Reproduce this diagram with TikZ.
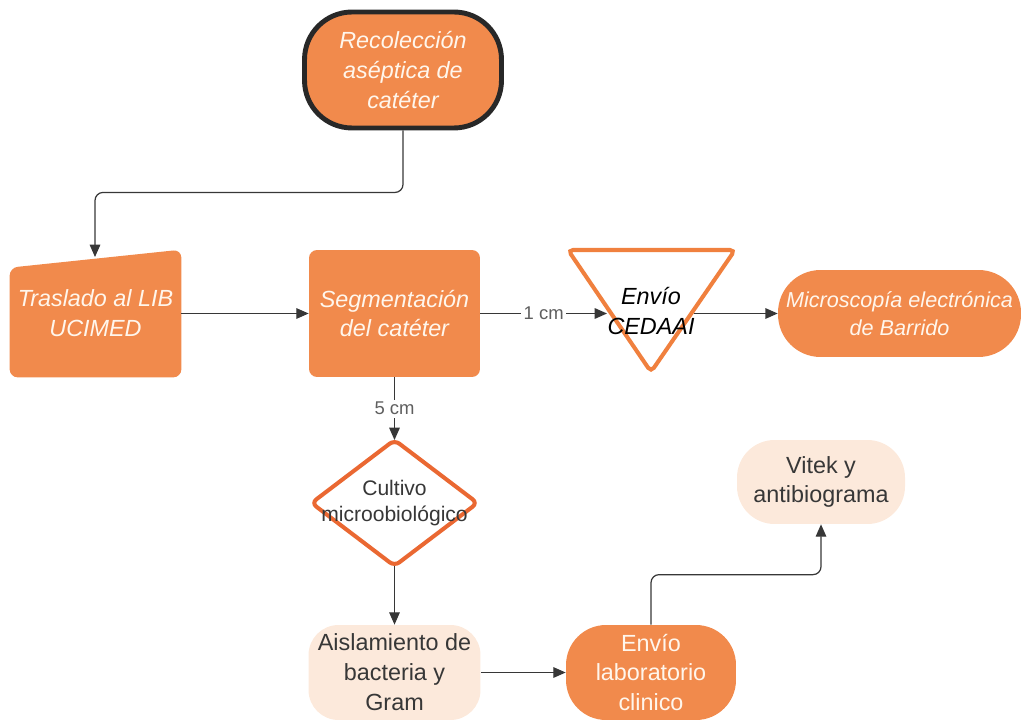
\documentclass[tikz,border=0pt]{standalone}
\usepackage{fontspec}
\setmainfont{Liberation Sans}
\usetikzlibrary{arrows.meta}
\usetikzlibrary{calc, backgrounds, shapes.geometric}
\definecolor{naranja}{RGB}{241,138,76}
\definecolor{naranjaborde}{RGB}{240,128,62}
\definecolor{rojizo}{RGB}{234,104,50}
\definecolor{durazno}{RGB}{252,233,219}
\definecolor{gris}{RGB}{55,55,55}
\definecolor{grisclaro}{RGB}{95,95,95}
\definecolor{crema}{RGB}{255,246,236}
\definecolor{oscuro}{RGB}{40,40,40}
\newcommand{\letra}{\fontsize{13.3}{17}\selectfont}

\begin{document}
\begin{tikzpicture}[x=0.02cm, y=-0.02cm, font=\letra,
	caja/.style={rectangle, fill=naranja, text=crema, align=center, inner sep=0pt},
	clara/.style={rectangle, fill=durazno, text=gris, align=center, inner sep=0pt},
	flecha/.style={draw=gris, line width=0.7pt, -{Triangle[length=7pt,width=6pt]}},
	etiqueta/.style={fill=white, text=grisclaro, inner sep=1.5pt, font=\fontsize{10.5}{12}\selectfont}]

	\useasboundingbox (0,0) rectangle (1023,722);

	% Paso 1
	\node[caja, draw=oscuro, line width=2.8pt, rounded corners=0.95cm, minimum width=3.94cm, minimum height=2.32cm, font=\letra\itshape] (R) at (403,70) {Recolección\\aséptica de\\catéter};

	% Paso 2
	\node[align=center, text=crema, inner sep=0pt, minimum width=3.42cm, minimum height=2.54cm, font=\letra\itshape] (T) at (95.5,313.5) {Traslado al LIB\\UCIMED};
	\begin{scope}[on background layer]
		\fill[naranja, rounded corners=0.16cm] (T.south west) -- ($(T.north west)+(0,18)$) -- (T.north east) -- (T.south east) -- cycle;
	\end{scope}
	\coordinate (Tin) at (95,257);

	\node[caja, rounded corners=0.16cm, minimum width=3.42cm, minimum height=2.54cm, font=\letra\itshape] (S) at (394.5,313.5) {Segmentación\\del catéter};

	\draw[flecha, rounded corners=0.16cm] (R.south) -- ++(0,62) -| (Tin);
	\draw[flecha] (T.east) -- (S.west);

	% Paso 3
	\node[align=center, text=black, inner sep=0pt, font=\letra\itshape] (E) at (651,311) {Envío\\CEDAAI};
	\begin{scope}[on background layer]
		\filldraw[fill=white, draw=naranjaborde, line width=2.3pt, rounded corners=0.1cm] ($(E)+(-83,-61)$) -- ($(E)+(84,-61)$) -- ($(E)+(0,61)$) -- cycle;
	\end{scope}
	\coordinate (Ein) at (607,313.5);
	\coordinate (Eout) at (694,313.5);

	\node[caja, rounded corners=0.85cm, minimum width=4.86cm, minimum height=1.74cm, font=\fontsize{12.3}{16}\selectfont\itshape] (M) at (899.5,313.5) {Microscopía electrónica\\de Barrido};

	\draw[flecha] (S.east) -- node[etiqueta] {1 cm} (Ein);
	\draw[flecha] (Eout) -- (M.west);

	% Paso 4
	\node[diamond, draw=rojizo, fill=white, line width=2.3pt, rounded corners=0.12cm, inner sep=0pt, outer sep=0pt, minimum width=3.32cm, minimum height=2.52cm] (C) at (394.5,503) {};
	\node[align=center, text=gris, inner sep=0pt, font=\fontsize{12}{14.7}\selectfont] (Ct) at (C) {Cultivo\\microobiológico};

	\node[clara, rounded corners=0.6cm, minimum width=3.44cm, minimum height=1.9cm] (A) at (394.5,672.5) {Aislamiento de\\bacteria y\\Gram};

	\draw[flecha] (S.south) -- node[etiqueta] {5 cm} (C.north);
	\draw[flecha] (C.south) -- (A.north);

	% Paso 5
	\node[caja, rounded corners=0.8cm, minimum width=3.4cm, minimum height=1.9cm] (L) at (651,672.5) {Envío\\laboratorio\\clinico};
	\node[clara, rounded corners=0.75cm, minimum width=3.36cm, minimum height=1.68cm] (V) at (821,482) {Vitek y\\antibiograma};

	\draw[flecha] (A.east) -- (L.west);
	\draw[flecha, rounded corners=0.16cm] (L.north) -- ++(0,-50) -| (V.south);

\end{tikzpicture}
\end{document}
